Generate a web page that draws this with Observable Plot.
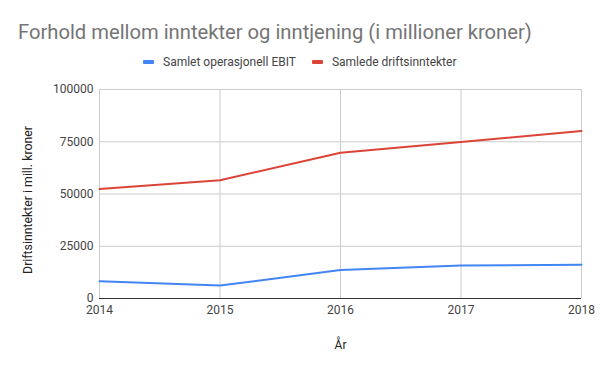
<!DOCTYPE html>
<html>
<head>
<meta charset="utf-8">
<script src="https://cdn.jsdelivr.net/npm/d3@7"></script>
<script src="https://cdn.jsdelivr.net/npm/@observablehq/plot@0.6"></script>
<style>
  html, body { margin: 0; padding: 0; background: #fff; }
  #wrap { position: relative; width: 600px; height: 371px; font-family: Roboto, sans-serif; }
  #title { position: absolute; left: 18px; top: 20px; font-size: 20.2px; color: #757575; white-space: nowrap; }
  #legend { position: absolute; left: 143px; top: 55px; font-size: 12px; color: #444; white-space: nowrap; display: flex; align-items: center; }
  .sw { display: inline-block; width: 11px; height: 4px; border-radius: 1px; margin-right: 9px; }
  .item { display: flex; align-items: center; margin-right: 16px; }
  #chart { position: absolute; left: 0; top: 0; }
</style>
</head>
<body>
<div id="wrap">
  <div id="chart"></div>
  <div id="title">Forhold mellom inntekter og inntjening (i millioner kroner)</div>
  <div id="legend"></div>
</div>
<script>
const years = [2014, 2015, 2016, 2017, 2018];
const seriesNames = ["Samlet operasjonell EBIT", "Samlede driftsinntekter"];
const ebit = [8300, 6200, 13600, 15800, 16100];
const driftsinntekter = [52400, 56600, 69700, 74900, 80200];
const yTicks = [0, 25000, 50000, 75000, 100000];
const colors = ["#4285F4", "#DB4437"];

const rows = [];
years.forEach((yr, i) => {
  rows.push({year: yr, value: ebit[i], series: seriesNames[0]});
  rows.push({year: yr, value: driftsinntekter[i], series: seriesNames[1]});
});

const plot = Plot.plot({
  width: 600,
  height: 371,
  marginTop: 89,
  marginBottom: 73,
  marginLeft: 99,
  marginRight: 19,
  style: {fontFamily: "Roboto, sans-serif", fontSize: "12px", background: "transparent"},
  x: {domain: [2014, 2018], ticks: years, tickFormat: d => String(d), label: null},
  y: {domain: [0, 100000], ticks: yTicks, tickFormat: d => String(d), label: null},
  color: {domain: seriesNames, range: colors},
  marks: [
    Plot.gridY(yTicks, {stroke: "#cccccc", strokeOpacity: 1, strokeWidth: 1}),
    Plot.gridX(years, {stroke: "#cccccc", strokeOpacity: 1, strokeWidth: 1}),
    Plot.axisY(yTicks, {tickSize: 0, tickPadding: 6, fill: "#444", fontSize: 12, tickFormat: d => String(d)}),
    Plot.axisX(years, {tickSize: 0, tickPadding: 7, fill: "#444", fontSize: 12, tickFormat: d => String(d)}),
    Plot.ruleY([0], {stroke: "#333", strokeWidth: 1}),
    Plot.line(rows, {x: "year", y: "value", z: "series", stroke: "series", strokeWidth: 2}),
    Plot.text(["Driftsinntekter i mill. kroner"], {frameAnchor: "left", textAnchor: "middle", dx: -71, dy: 6, rotate: -90, fill: "#222", fontSize: 12.3}),
    Plot.text(["År"], {frameAnchor: "bottom", dy: 50, fill: "#222", fontSize: 12})
  ]
});
document.getElementById("chart").appendChild(plot);

const legend = document.getElementById("legend");
seriesNames.forEach((n, i) => {
  const it = document.createElement("span");
  it.className = "item";
  it.innerHTML = `<span class="sw" style="background:${colors[i]}"></span><span>${n}</span>`;
  legend.appendChild(it);
});
</script>
</body>
</html>
